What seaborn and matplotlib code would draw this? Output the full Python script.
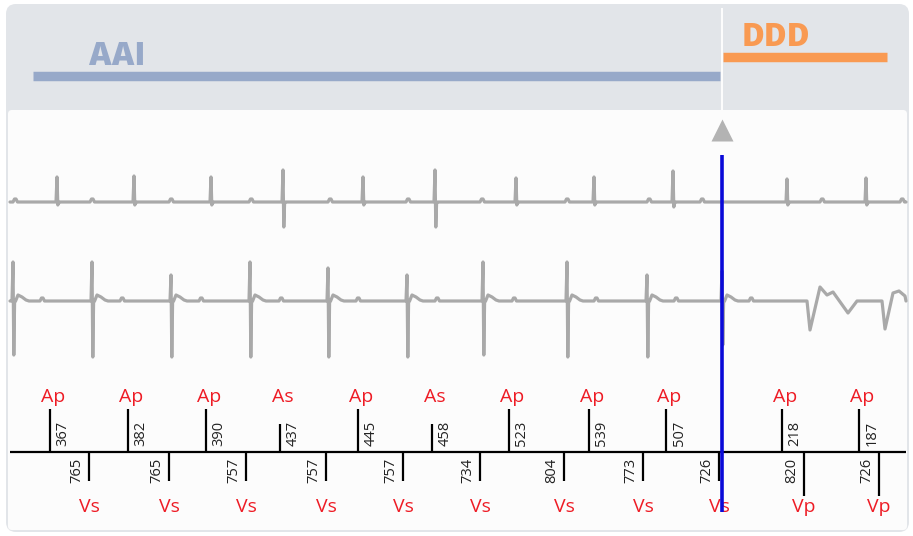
import matplotlib
matplotlib.use("Agg")
import matplotlib.pyplot as plt
from matplotlib.patches import FancyBboxPatch
import seaborn as sns
import pandas as pd

# ---- data (time axis in screen samples) ----
modes = ["AAI", "DDD"]
mode_start = [33, 723]
mode_end = [720, 887]
mode_colors = ["#97a9c9", "#f99a52"]
switch_t = 722

atrial_t = [50, 128, 206, 280, 358, 432, 509, 589, 666, 782, 859]
atrial_lbl = ["Ap", "Ap", "Ap", "As", "Ap", "As", "Ap", "Ap", "Ap", "Ap", "Ap"]
atrial_ms = [367, 382, 390, 437, 445, 458, 523, 539, 507, 218, 187]

vent_t = [89, 169, 246, 326, 403, 480, 564, 643, 719, 804, 879]
vent_lbl = ["Vs"] * 9 + ["Vp", "Vp"]
vent_ms = [765, 765, 757, 757, 757, 734, 804, 773, 726, 820, 726]

# atrial channel (top EGM)
a_spike_t = [57, 134, 211, 283, 363, 435, 516, 594, 673, 787, 866]
a_spike_up = [-25, -26, -25, -32, -25, -32, -24, -25, -31, -23, -24]
a_spike_dn = [3, 3, 3, 25, 3, 25, 3, 3, 5, 3, 3]
a_far_t = [16, 93, 172, 252, 331, 409, 483, 568, 650, 703, 823, 903]

# ventricular channel (bottom EGM)
v_spike_t = [13, 92, 171, 250, 328, 407, 483, 567, 647, 722]
v_spike_up = [-39, -39, -26, -39, -33, -26, -39, -39, -26, -30]
v_spike_dn = [54, 56, 56, 56, 56, 56, 54, 56, 56, 44]
v_far_t = [43, 123, 202, 282, 359, 438, 515, 597, 677, 752]
v_paced_t = [807, 882]

# waveform templates (offset, amplitude)
spike_dt = [-1, 0, 0.8, 1.6, 2.6]
far_dt = [-3, -1.5, 0, 1.5]
far_dy = [0, -3, -3, 0]
vtail_dt = [2.6, 5, 9, 13, 16]
vtail_dy = [0, -6, -4, -1, 0]
paced1_dt = [0, 3, 13, 20, 26, 41, 50]
paced1_dy = [0, 29, -14, -6, -9, 12, 0]
paced2_dt = [0, 3, 11, 17, 23]
paced2_dy = [0, 28, -8, -10, -5]


def build(events, start, end):
    xs, ys = [start], [0.0]
    for t, dts, dys in sorted(events, key=lambda e: e[0]):
        for dt, dy in zip(dts, dys):
            xs.append(t + dt)
            ys.append(dy)
    if end > xs[-1]:
        xs.append(end)
        ys.append(0.0)
    return pd.DataFrame({"t": xs, "v": ys})


top_ev = [(t, spike_dt, [0, u, d, 1, 0]) for t, u, d in zip(a_spike_t, a_spike_up, a_spike_dn)]
top_ev += [(t, far_dt, far_dy) for t in a_far_t]
top = build(top_ev, 10, 906)

bot_ev = [(t, spike_dt + vtail_dt[1:], [0, u, d, 1, 0] + vtail_dy[1:])
          for t, u, d in zip(v_spike_t, v_spike_up, v_spike_dn)]
bot_ev += [(t, far_dt, far_dy) for t in v_far_t]
bot_ev += [(v_paced_t[0], paced1_dt, paced1_dy), (v_paced_t[1], paced2_dt, paced2_dy)]
bot = build(bot_ev, 10, 906)

# ---- figure ----
sns.set_theme(style="white")
plt.rcParams["font.family"] = ["Open Sans", "DejaVu Sans"]

fig = plt.figure(figsize=(9.13, 5.36), dpi=100)
ax = fig.add_axes([0, 0, 1, 1])
ax.set_xlim(0, 913)
ax.set_ylim(536, 0)
ax.axis("off")

# panel + header
ax.add_patch(FancyBboxPatch((6, 4), 903, 528, boxstyle="round,pad=0,rounding_size=10",
                            facecolor="#e2e5e9", edgecolor="none", zorder=0))
ax.add_patch(FancyBboxPatch((8, 110), 899, 420, boxstyle="round,pad=0,rounding_size=4",
                            facecolor="#fcfcfc", edgecolor="none", zorder=0))
ax.vlines(switch_t, 8, 110, color="white", lw=1.3, zorder=1)

for name, s, e, c in zip(modes, mode_start, mode_end, mode_colors):
    y = 76 if name == "AAI" else 57
    ax.hlines(y, s, e, color=c, lw=6.8, zorder=2)
    ax.text(s + (56 if name == "AAI" else 19), y - 11, name, color=c, fontsize=22.5,
            fontweight="heavy", ha="left", va="baseline", zorder=3)

ax.plot([switch_t], [130], marker="^", markersize=16, color="#b3b3b3", mec="none", zorder=3)

# EGM traces
sns.lineplot(x=top["t"], y=top["v"] + 202, sort=False, estimator=None, ax=ax,
             color="#a9a9a9", lw=2.3, zorder=2)
sns.lineplot(x=bot["t"], y=bot["v"] + 301, sort=False, estimator=None, ax=ax,
             color="#a9a9a9", lw=2.3, zorder=2)

# marker channel
base = 452
ax.hlines(base, 10, 906, color="black", lw=1.6, zorder=3)
for t, lbl, ms in zip(atrial_t, atrial_lbl, atrial_ms):
    h = 43 if lbl == "Ap" else 28
    ax.vlines(t, base - h, base, color="black", lw=1.6, zorder=3)
    ax.text(t + 3, 397, lbl, color="#ee1c25", fontsize=14, ha="center", va="center", zorder=4)
    ax.text(t + 13, base - 6, str(ms), rotation=90, color="#222222", fontsize=10.5,
            ha="center", va="bottom", zorder=4)
for t, lbl, ms in zip(vent_t, vent_lbl, vent_ms):
    h = 29 if lbl == "Vs" else 44
    ax.vlines(t, base, base + h, color="black", lw=1.6, zorder=3)
    ax.text(t, 507, lbl, color="#ee1c25", fontsize=14, ha="center", va="center", zorder=4)
    ax.text(t - 12, base + 6, str(ms), rotation=90, color="#222222", fontsize=10.5,
            ha="center", va="top", zorder=4)

# mode switch line
ax.vlines(switch_t, 155, 512, color="#0a0ad8", lw=2.6, zorder=5)

fig.savefig("out.png", dpi=100)
